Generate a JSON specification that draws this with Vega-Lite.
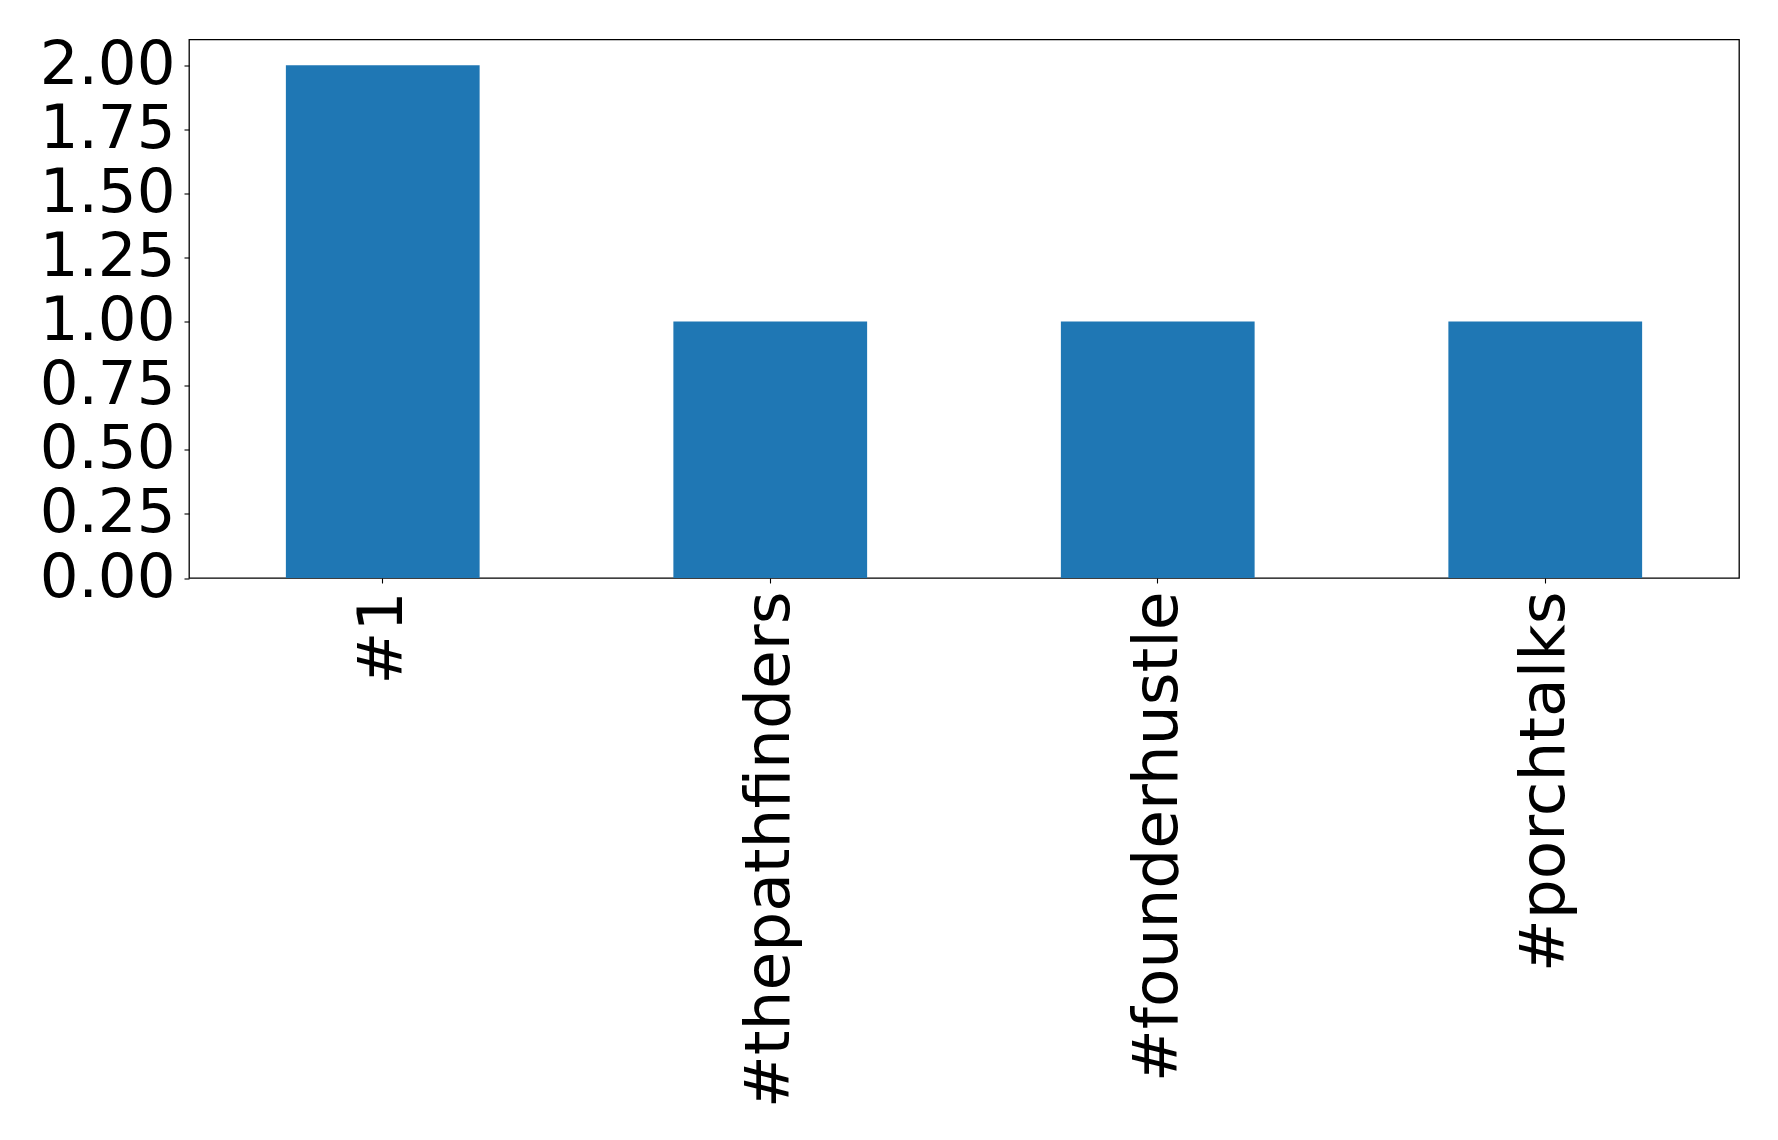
{
  "$schema": "https://vega.github.io/schema/vega-lite/v6.json",
  "autosize": {"type": "none"},
  "padding": {"left": 189, "top": 39.5, "right": 38, "bottom": 562},
  "width": 1550,
  "height": 538.5,
  "background": "white",
  "config": {
    "view": {"stroke": "black", "strokeWidth": 1.3},
    "font": "DejaVu Sans",
    "axis": {
      "labelFont": "DejaVu Sans",
      "labelColor": "black",
      "tickColor": "black",
      "domain": false,
      "grid": false,
      "tickSize": 5,
      "tickWidth": 1.1,
      "title": null
    }
  },
  "data": {
    "values": [
      {"hashtag": "#1", "count": 2},
      {"hashtag": "#thepathfinders", "count": 1},
      {"hashtag": "#founderhustle", "count": 1},
      {"hashtag": "#porchtalks", "count": 1}
    ]
  },
  "mark": {"type": "bar", "color": "#1f77b4"},
  "encoding": {
    "x": {
      "field": "hashtag",
      "type": "nominal",
      "sort": null,
      "scale": {"paddingInner": 0.5, "paddingOuter": 0.25},
      "axis": {"labelAngle": -90, "labelFontSize": 63, "labelPadding": 8, "labelLimit": 0}
    },
    "y": {
      "field": "count",
      "type": "quantitative",
      "scale": {"domain": [0, 2.1], "nice": false},
      "axis": {"values": [0, 0.25, 0.5, 0.75, 1, 1.25, 1.5, 1.75, 2], "format": ".2f", "labelFontSize": 61, "labelPadding": 9}
    }
  }
}
